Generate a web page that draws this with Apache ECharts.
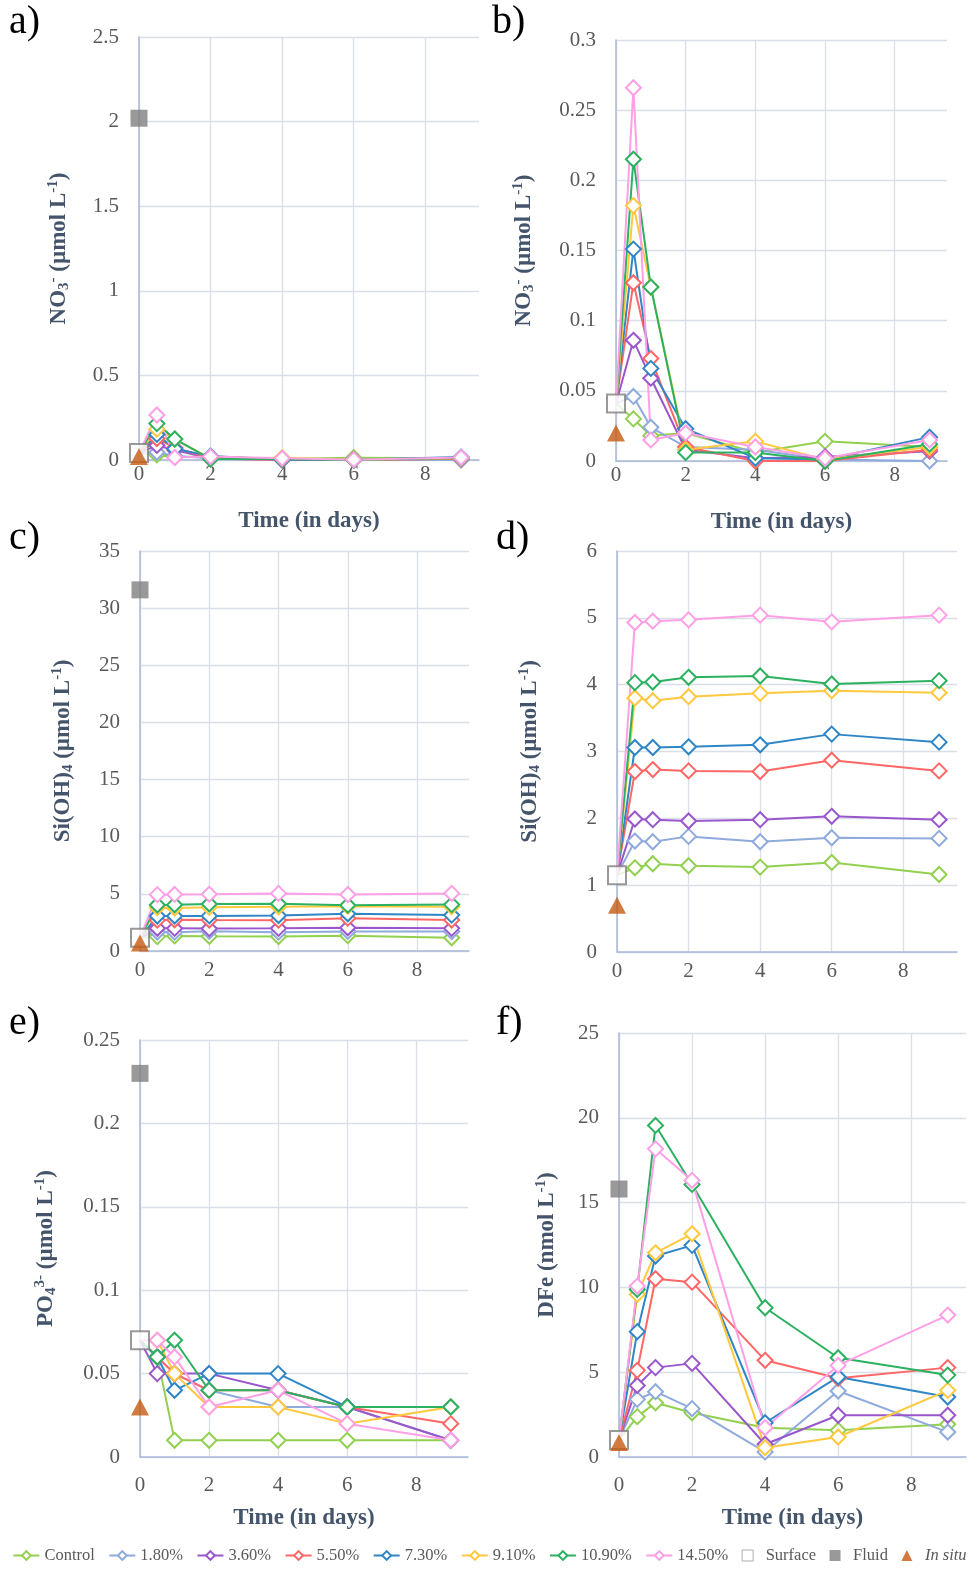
<!DOCTYPE html>
<html><head><meta charset="utf-8">
<script src="https://cdn.jsdelivr.net/npm/echarts@6/dist/echarts.min.js"></script>
<style>html,body{margin:0;padding:0;background:#fff}#c{width:979px;height:1570px}</style>
</head><body><div id="c"></div>
<script>
// ---- data ----
const times = [0, 0.5, 1, 2, 4, 6, 9];
const treatments = ['Control', '1.80%', '3.60%', '5.50%', '7.30%', '9.10%', '10.90%', '14.50%'];
const refNames = ['Surface', 'Fluid', 'In situ'];
const xTicks = [0, 2, 4, 6, 8];

// NO3- (µmol/L), rows follow treatments, columns follow times
const no3 = [
  [0.041, 0.030, 0.018, 0.020, 0.006, 0.014, 0.010],
  [0.041, 0.046, 0.024, 0.010, 0.008, 0.001, 0.000],
  [0.041, 0.086, 0.059, 0.008, 0.002, 0.003, 0.007],
  [0.041, 0.127, 0.073, 0.010, 0.000, 0.000, 0.008],
  [0.041, 0.151, 0.066, 0.023, 0.002, 0.001, 0.017],
  [0.041, 0.182, 0.124, 0.008, 0.014, 0.001, 0.010],
  [0.041, 0.215, 0.124, 0.006, 0.006, 0.000, 0.012],
  [0.041, 0.266, 0.015, 0.020, 0.010, 0.002, 0.015]
];
const no3Ref = [0.041, 2.02, 0.02]; // Surface, Fluid, In situ

// Si(OH)4 (µmol/L)
const si = [
  [1.15, 1.26, 1.32, 1.29, 1.27, 1.34, 1.16],
  [1.15, 1.66, 1.65, 1.73, 1.65, 1.71, 1.70],
  [1.15, 1.99, 1.98, 1.96, 1.98, 2.03, 1.98],
  [1.15, 2.70, 2.73, 2.71, 2.70, 2.87, 2.71],
  [1.15, 3.06, 3.06, 3.07, 3.10, 3.26, 3.14],
  [1.15, 3.80, 3.76, 3.82, 3.87, 3.91, 3.88],
  [1.15, 4.03, 4.04, 4.11, 4.13, 4.01, 4.06],
  [1.15, 4.93, 4.95, 4.97, 5.04, 4.94, 5.04]
];
const siRef = [1.15, 31.6, 0.70];

// PO4 3- (µmol/L)
const po4 = [
  [0.07, 0.06, 0.01, 0.01, 0.01, 0.01, 0.01],
  [0.07, 0.06, 0.05, 0.04, 0.03, 0.03, 0.01],
  [0.07, 0.05, 0.05, 0.05, 0.04, 0.03, 0.01],
  [0.07, 0.06, 0.05, 0.04, 0.04, 0.03, 0.02],
  [0.07, 0.06, 0.04, 0.05, 0.05, 0.03, 0.03],
  [0.07, 0.07, 0.05, 0.03, 0.03, 0.02, 0.03],
  [0.07, 0.06, 0.07, 0.04, 0.04, 0.03, 0.03],
  [0.07, 0.07, 0.06, 0.03, 0.04, 0.02, 0.01]
];
const po4Ref = [0.07, 0.23, 0.03];

// DFe (nmol/L)
const dfe = [
  [1.0, 2.38, 3.20, 2.61, 1.73, 1.57, 1.93],
  [1.0, 3.40, 3.85, 2.85, 0.30, 3.89, 1.47],
  [1.0, 4.22, 5.27, 5.52, 0.75, 2.46, 2.46],
  [1.0, 5.11, 10.51, 10.31, 5.70, 4.64, 5.27],
  [1.0, 7.39, 11.85, 12.48, 2.02, 4.72, 3.54],
  [1.0, 9.59, 12.04, 13.16, 0.55, 1.18, 3.93],
  [1.0, 9.88, 19.55, 16.07, 8.80, 5.85, 4.83],
  [1.0, 10.08, 18.17, 16.31, 1.73, 5.40, 8.37]
];
const dfeRef = [1.0, 15.8, 0.85];

// ---- styles ----
const colors = ['#92D050', '#8FAADC', '#9A57CD', '#FF6666', '#2F86C6', '#FFC83D', '#2BB160', '#FF9FE6'];
const SERIF = '"Liberation Serif", "Times New Roman", serif';
const titleColor = '#44546A';
const labelColor = '#595959';
const gridColor = '#D9DEE7';
const axisColor = '#A9B9D6';

const richBase = {
  b: { fontFamily: SERIF, fontWeight: 'bold', fontSize: 23, color: titleColor },
  sub: { fontFamily: SERIF, fontWeight: 'bold', fontSize: 15, color: titleColor, padding: [11, 0, 0, 0] },
  sup: { fontFamily: SERIF, fontWeight: 'bold', fontSize: 15, color: titleColor, padding: [0, 0, 11, 0] }
};

const panels = [
  { letter: 'a)', lx: 9, ly: 2, grid: { left: 139, top: 37, width: 340, height: 423 }, data: no3, ref: no3Ref, fluid: true, max: 2.5, interval: 0.5,
    name: '{b|NO}{sub|3}{sup|-}{b| (µmol L}{sup|-1}{b|)}', gap: 67, xTitle: true, xm: 4 },
  { letter: 'b)', lx: 492, ly: 2, grid: { left: 616, top: 40, width: 331, height: 421 }, data: no3, ref: no3Ref, fluid: false, max: 0.3, interval: 0.05,
    name: '{b|NO}{sub|3}{sup|-}{b| (µmol L}{sup|-1}{b|)}', gap: 79, xTitle: true, xm: 4 },
  { letter: 'c)', lx: 9, ly: 518, grid: { left: 140, top: 551, width: 329, height: 400 }, data: si, ref: siRef, fluid: true, max: 35, interval: 5,
    name: '{b|Si(OH)}{sub|4}{b| (µmol L}{sup|-1}{b|)}', gap: 64, xTitle: false, xm: 9 },
  { letter: 'd)', lx: 496, ly: 518, grid: { left: 617, top: 551, width: 340, height: 401 }, data: si, ref: siRef, fluid: false, max: 6, interval: 1,
    name: '{b|Si(OH)}{sub|4}{b| (µmol L}{sup|-1}{b|)}', gap: 74, xTitle: false, xm: 9 },
  { letter: 'e)', lx: 9, ly: 1003, grid: { left: 140, top: 1040, width: 328, height: 417 }, data: po4, ref: po4Ref, fluid: true, max: 0.25, interval: 0.05,
    name: '{b|PO}{sub|4}{sup|3-}{b| (µmol L}{sup|-1}{b|)}', gap: 81, xTitle: true, xm: 18 },
  { letter: 'f)', lx: 496, ly: 1003, grid: { left: 619, top: 1033, width: 347, height: 424 }, data: dfe, ref: dfeRef, fluid: true, max: 25, interval: 5,
    name: '{b|DFe (nmol L}{sup|-1}{b|)}', gap: 59, xTitle: true, xm: 18 }
];

const grids = [], xAxes = [], yAxes = [], series = [], graphics = [];
panels.forEach((p, pi) => {
  grids.push(Object.assign({ containLabel: false }, p.grid));
  xAxes.push({
    type: 'value', gridIndex: pi, min: 0, max: 9.5, interval: 2,
    axisLine: { show: true, onZero: false, lineStyle: { color: axisColor, width: 1.5 } },
    axisTick: { show: false },
    axisLabel: { show: true, showMaxLabel: false, margin: p.xm, fontFamily: SERIF, fontSize: 21, color: labelColor,
      formatter: v => (xTicks.indexOf(v) >= 0 ? String(v) : '') },
    splitLine: { show: true, showMaxLine: false, lineStyle: { color: gridColor, width: 1.3 } },
    name: p.xTitle ? 'Time (in days)' : '', nameLocation: 'middle', nameGap: 50,
    nameTextStyle: { fontFamily: SERIF, fontWeight: 'bold', fontSize: 23, color: titleColor }
  });
  yAxes.push({
    type: 'value', gridIndex: pi, min: 0, max: p.max, interval: p.interval,
    axisLine: { show: true, lineStyle: { color: axisColor, width: 1.5 } },
    axisTick: { show: false },
    axisLabel: { margin: 20, fontFamily: SERIF, fontSize: 21, color: labelColor },
    splitLine: { show: true, lineStyle: { color: gridColor, width: 1.3 } },
    name: p.name, nameLocation: 'middle', nameRotate: 90, nameGap: p.gap,
    nameTextStyle: { fontFamily: SERIF, fontWeight: 'bold', fontSize: 23, color: titleColor, rich: richBase }
  });
  p.data.forEach((row, k) => {
    series.push({
      type: 'line', name: treatments[k], xAxisIndex: pi, yAxisIndex: pi,
      data: times.map((t, i) => (i === 0 ? { value: [t, row[i]], symbol: 'none' } : [t, row[i]])),
      symbol: 'emptyDiamond', symbolSize: 15, showAllSymbol: true,
      color: colors[k], itemStyle: { color: colors[k], borderWidth: 2 },
      lineStyle: { color: colors[k], width: 2 },
      z: 2, clip: false, animation: false, emphasis: { disabled: true }
    });
  });
  series.push({
    type: 'scatter', name: refNames[0], xAxisIndex: pi, yAxisIndex: pi, data: [[0, p.ref[0]]],
    symbol: 'rect', symbolSize: 18, itemStyle: { color: '#FFFFFF', borderColor: '#7F7F7F', borderWidth: 2 },
    z: 5, clip: false, animation: false, emphasis: { disabled: true }
  });
  series.push({
    type: 'scatter', name: refNames[1], xAxisIndex: pi, yAxisIndex: pi, data: p.fluid ? [[0, p.ref[1]]] : [],
    symbol: 'rect', symbolSize: 17, itemStyle: { color: '#7F7F7F' },
    z: 5, clip: false, animation: false, emphasis: { disabled: true }
  });
  series.push({
    type: 'scatter', name: refNames[2], xAxisIndex: pi, yAxisIndex: pi, data: [[0, p.ref[2]]],
    symbol: 'triangle', symbolSize: [18, 17], itemStyle: { color: '#C55A11' },
    z: 6, clip: false, animation: false, emphasis: { disabled: true }
  });
  graphics.push({
    type: 'text', left: p.lx, top: p.ly,
    style: { text: p.letter, font: '40px ' + SERIF, fill: '#000000' }
  });
});

const squareIcon = 'path://M0,0L10,0L10,10L0,10Z';
const triIcon = 'path://M5,0L10,10L0,10Z';

const chart = echarts.init(document.getElementById('c'), null, { renderer: 'canvas' });
chart.setOption({
  animation: false,
  backgroundColor: '#ffffff',
  grid: grids, xAxis: xAxes, yAxis: yAxes, series: series, graphic: graphics,
  legend: {
    data: treatments.map(n => ({ name: n })).concat([
      { name: 'Surface', icon: squareIcon, itemStyle: { color: '#FFFFFF', borderColor: '#9A9A9A', borderWidth: 1 } },
      { name: 'Fluid', icon: squareIcon },
      { name: 'In situ', icon: triIcon }
    ]),
    top: 1542, left: 'center',
    itemWidth: 26, itemHeight: 11, itemGap: 13.5, symbolKeepAspect: true,
    selectedMode: false,
    textStyle: { fontFamily: SERIF, fontSize: 16.5, color: labelColor,
      rich: { it: { fontFamily: SERIF, fontSize: 16.5, color: labelColor, fontStyle: 'italic' } } },
    formatter: n => (n === 'In situ' ? '{it|In situ}' : n)
  },
  tooltip: { show: false }
});
</script></body></html>
